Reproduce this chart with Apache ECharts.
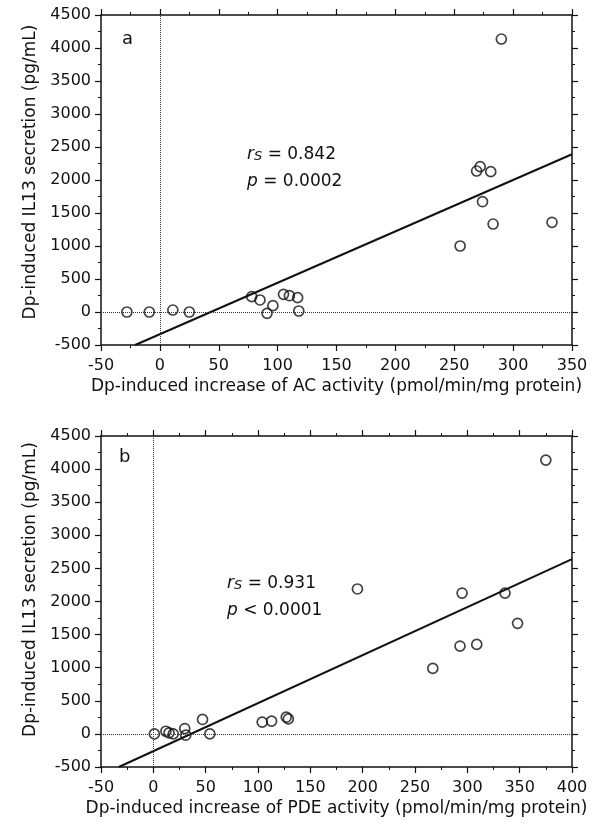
<!DOCTYPE html>
<html>
<head>
<meta charset="utf-8">
<script src="https://cdn.jsdelivr.net/npm/echarts@6/dist/echarts.min.js"></script>
<style>
  body { margin: 0; background: #fff; }
  #box { width: 598px; height: 826px; }
</style>
</head>
<body>
<div id="box"></div>
<script>
// panel a: AC activity vs IL13
var acX = [-28, -9, 11, 25, 78, 85, 91, 96, 105, 110, 117, 118, 290, 272, 269, 281, 274, 283, 255, 333];
var acY = [0, 0, 30, 0, 232, 182, -20, 96, 268, 247, 217, 15, 4136, 2202, 2136, 2126, 1671, 1333, 1000, 1359];
var acFit = [[-21, -500], [350, 2390]];

// panel b: PDE activity vs IL13
var pdeX = [1, 12, 15, 19, 30, 31, 47, 54, 104, 113, 127, 129, 375, 195, 295, 336, 348, 293, 309, 267];
var pdeY = [0, 40, 15, 0, 81, -20, 218, 0, 177, 192, 252, 227, 4136, 2189, 2128, 2128, 1670, 1327, 1352, 989];
var pdeFit = [[-33, -500], [400, 2640]];

var yTicks = { min: -500, max: 4500, interval: 500 };
var xRangeA = { min: -50, max: 350, interval: 50 };
var xRangeB = { min: -50, max: 400, interval: 50 };

var FONT = 'DejaVu Sans';
var INK = '#111';

function zip(xs, ys) {
    return xs.map(function (x, i) { return [x, ys[i]]; });
}

// one axis, main (with labels) or mirror (frame side with ticks only)
function axis(kind, gridIndex, range, position, main, name, shift) {
    var a = {
        type: 'value',
        gridIndex: gridIndex,
        position: position,
        min: range.min,
        max: range.max,
        interval: range.interval,
        splitLine: { show: false },
        axisLine: { show: true, onZero: false, lineStyle: { color: INK, width: 1.5 } },
        axisTick: { show: true, inside: false, length: 6, lineStyle: { color: INK, width: 1.2 } },
        minorTick: { show: true, splitNumber: 2, length: 3, lineStyle: { color: INK, width: 1 } },
        axisLabel: {
            show: main, color: INK, fontFamily: FONT, fontSize: 16,
            margin: kind === 'x' ? 13 : 10, hideOverlap: false,
            formatter: function (v) { return String(v); }
        }
    };
    if (main) {
        a.name = name;
        a.nameLocation = 'middle';
        a.nameGap = kind === 'x' ? 33 : 60;
        a.nameTextStyle = { color: INK, fontFamily: FONT, fontSize: 17, padding: [0, 0, 0, shift || 0] };
    }
    return a;
}

var yName = 'Dp-induced IL13 secretion (pg/mL)';

var myChart = echarts.init(document.getElementById('box'));
var option = {
    backgroundColor: '#fff',
    animation: false,
    grid: [
        { left: 101, top: 15, width: 471, height: 330 },
        { left: 101, top: 436, width: 471, height: 331 }
    ],
    xAxis: [
        axis('x', 0, xRangeA, 'bottom', true, 'Dp-induced increase of AC activity (pmol/min/mg protein)'),
        axis('x', 0, xRangeA, 'top', false),
        axis('x', 1, xRangeB, 'bottom', true, 'Dp-induced increase of PDE activity (pmol/min/mg protein)'),
        axis('x', 1, xRangeB, 'top', false)
    ],
    yAxis: [
        axis('y', 0, yTicks, 'left', true, yName, 16),
        axis('y', 0, yTicks, 'right', false),
        axis('y', 1, yTicks, 'left', true, yName, 24),
        axis('y', 1, yTicks, 'right', false)
    ],
    series: [
        {
            type: 'line',
            xAxisIndex: 0, yAxisIndex: 0,
            data: acFit,
            symbol: 'none',
            lineStyle: { color: INK, width: 2 },
            silent: true,
            markLine: {
                silent: true,
                symbol: 'none',
                label: { show: false },
                lineStyle: { color: '#333', type: 'dotted', width: 1 },
                data: [{ xAxis: 0 }, { yAxis: 0 }]
            }
        },
        {
            type: 'scatter',
            xAxisIndex: 0, yAxisIndex: 0,
            data: zip(acX, acY),
            symbol: 'circle',
            symbolSize: 10,
            itemStyle: { color: 'rgba(0,0,0,0)', borderColor: INK, borderWidth: 1.7 }
        },
        {
            type: 'line',
            xAxisIndex: 2, yAxisIndex: 2,
            data: pdeFit,
            symbol: 'none',
            lineStyle: { color: INK, width: 2 },
            silent: true,
            markLine: {
                silent: true,
                symbol: 'none',
                label: { show: false },
                lineStyle: { color: '#333', type: 'dotted', width: 1 },
                data: [{ xAxis: 0 }, { yAxis: 0 }]
            }
        },
        {
            type: 'scatter',
            xAxisIndex: 2, yAxisIndex: 2,
            data: zip(pdeX, pdeY),
            symbol: 'circle',
            symbolSize: 10,
            itemStyle: { color: 'rgba(0,0,0,0)', borderColor: INK, borderWidth: 1.7 }
        }
    ],
    graphic: []
};

// annotations: panel letter and the Spearman statistics
var rich = {
    i: { fontFamily: FONT, fontSize: 17, fontStyle: 'italic', lineHeight: 17, fill: INK },
    s: { fontFamily: FONT, fontSize: 13, fontStyle: 'italic', lineHeight: 12, verticalAlign: 'bottom', fill: INK },
    n: { fontFamily: FONT, fontSize: 17, lineHeight: 17, fill: INK }
};
function note(x, y, text) {
    return { type: 'text', x: x, y: y, style: { text: text, rich: rich, fill: INK, lineHeight: 24 } };
}
option.graphic = [
    { type: 'text', x: 122, y: 30, style: { text: 'a', font: '18px ' + FONT, fill: INK } },
    note(247, 146, '{i|r}{s|S}{n| = 0.842}'),
    note(247, 173, '{i|p}{n| = 0.0002}'),
    { type: 'text', x: 119, y: 448, style: { text: 'b', font: '18px ' + FONT, fill: INK } },
    note(227, 575, '{i|r}{s|S}{n| = 0.931}'),
    note(227, 602, '{i|p}{n| < 0.0001}')
];

option && myChart.setOption(option);
</script>
</body>
</html>
